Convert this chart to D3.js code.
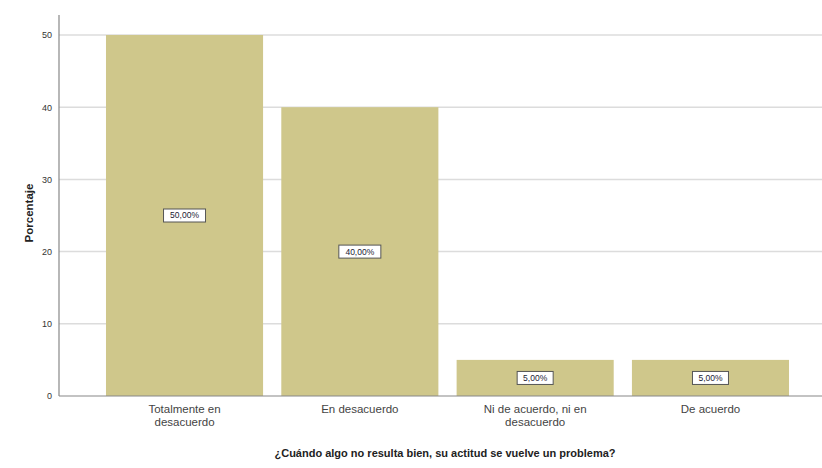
<!DOCTYPE html>
<html><head><meta charset="utf-8">
<script src="https://cdn.jsdelivr.net/npm/d3@7"></script>
<style>body{margin:0;background:#fff}svg{display:block}</style>
</head><body>
<svg id="c" width="822" height="468"></svg>
<script>
const categories = ["Totalmente en|desacuerdo", "En desacuerdo", "Ni de acuerdo, ni en|desacuerdo", "De acuerdo"];
const values = [50, 40, 5, 5];
const labels = ["50,00%", "40,00%", "5,00%", "5,00%"];
const yTicks = [0, 10, 20, 30, 40, 50];
const yTitle = "Porcentaje";
const xTitle = "¿Cuándo algo no resulta bien, su actitud se vuelve un problema?";

const svg = d3.select("#c");
const x0 = 59, xEnd = 822;
const x = d3.scaleBand().domain(categories).range([59, 836]).paddingInner(0.104).paddingOuter(0.268);
const y = d3.scaleLinear().domain([0, 50]).range([396, 35]);

// gridlines
svg.append("g").selectAll("line").data(yTicks.filter(d => d > 0)).join("line")
  .attr("x1", x0).attr("x2", xEnd).attr("y1", d => y(d)).attr("y2", d => y(d))
  .attr("stroke", "#dcdcdc").attr("stroke-width", 1.5);

// bars
svg.append("g").selectAll("rect").data(values).join("rect")
  .attr("x", (d, i) => x(categories[i])).attr("width", x.bandwidth())
  .attr("y", d => y(d)).attr("height", d => y(0) - y(d))
  .attr("fill", "#cfc78b");

// value labels
const lg = svg.append("g").selectAll("g").data(values).join("g")
  .attr("transform", (d, i) => `translate(${x(categories[i]) + x.bandwidth() / 2},${y(d / 2)})`);
lg.append("rect").attr("x", (d, i) => labels[i].length > 5 ? -21 : -18).attr("y", -6.5)
  .attr("width", (d, i) => labels[i].length > 5 ? 42 : 36).attr("height", 13)
  .attr("fill", "#fff").attr("stroke", "#555").attr("stroke-width", 1);
lg.append("text").text((d, i) => labels[i]).attr("text-anchor", "middle").attr("dy", "0.35em")
  .attr("font-family", "Liberation Sans, Arial, sans-serif").attr("font-size", 8.5).attr("fill", "#223");

// y axis
const yAxis = d3.axisLeft(y).tickValues(yTicks).tickSize(0).tickPadding(7).tickFormat(d3.format("d"));
const ya = svg.append("g").attr("transform", `translate(${x0},0)`).call(yAxis);
ya.select(".domain").remove();
ya.selectAll("text").attr("font-family", "Liberation Sans, Arial, sans-serif").attr("font-size", 9).attr("fill", "#333");
svg.append("line").attr("x1", x0).attr("x2", x0).attr("y1", 15).attr("y2", y(0)).attr("stroke", "#888").attr("stroke-width", 1.2);

// x axis
const xAxis = d3.axisBottom(x).tickSize(0).tickFormat("");
const xa = svg.append("g").attr("transform", `translate(0,${y(0)})`).call(xAxis);
xa.select(".domain").remove();
svg.append("line").attr("x1", x0).attr("x2", xEnd).attr("y1", y(0)).attr("y2", y(0)).attr("stroke", "#888").attr("stroke-width", 1.2);

svg.append("g").selectAll("text").data(categories).join("text")
  .attr("transform", d => `translate(${x(d) + x.bandwidth() / 2},${y(0) + 17})`)
  .attr("text-anchor", "middle").attr("font-family", "Liberation Sans, Arial, sans-serif")
  .attr("font-size", 11.5).attr("fill", "#444")
  .each(function(d) {
    const parts = d.split("|");
    parts.forEach((p, i) => d3.select(this).append("tspan").attr("x", 0).attr("dy", i === 0 ? 0 : 12.5).text(p));
  });

// titles
svg.append("text").text(yTitle).attr("transform", "translate(33,213) rotate(-90)")
  .attr("text-anchor", "middle").attr("font-family", "Liberation Sans, Arial, sans-serif")
  .attr("font-size", 11.5).attr("font-weight", "bold").attr("fill", "#222");
svg.append("text").text(xTitle).attr("x", 445).attr("y", 457)
  .attr("text-anchor", "middle").attr("font-family", "Liberation Sans, Arial, sans-serif")
  .attr("font-size", 11).attr("font-weight", "bold").attr("fill", "#222");
</script>
</body></html>
